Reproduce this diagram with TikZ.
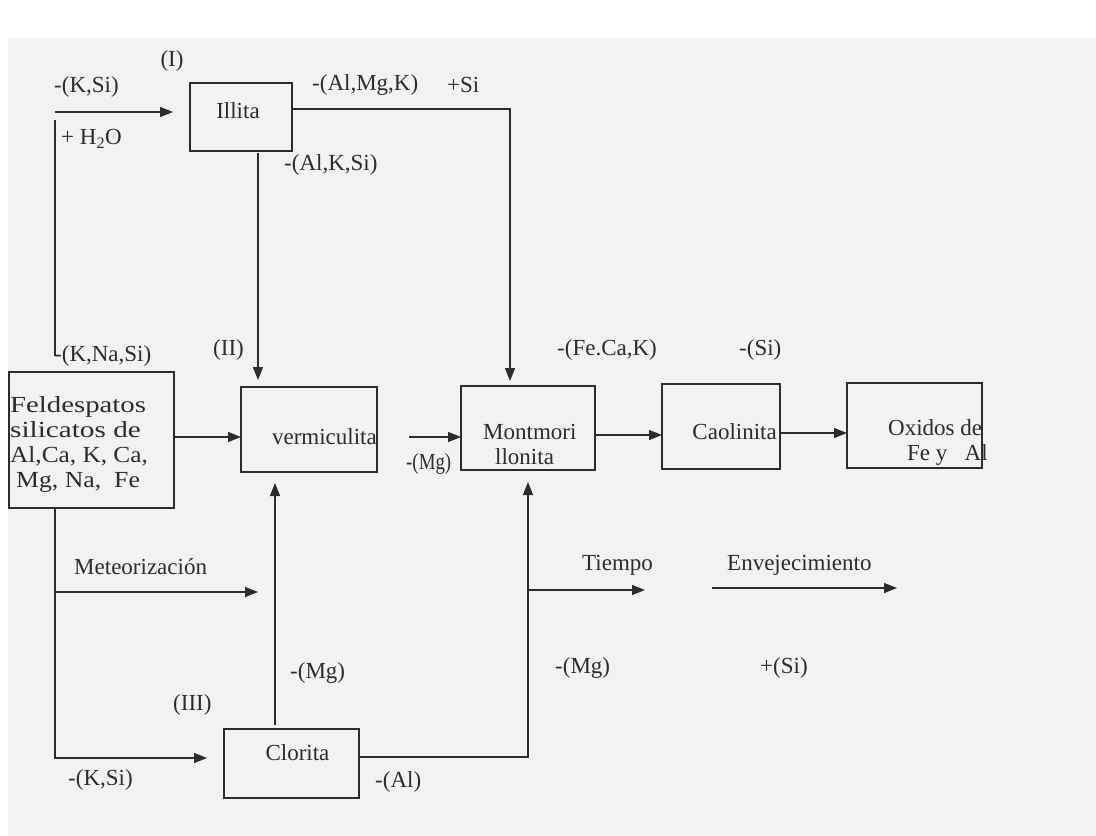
\documentclass[tikz,border=0pt]{standalone}
\usepackage{fontspec}
\setmainfont{Liberation Serif}
\usetikzlibrary{arrows.meta}
\definecolor{ink}{HTML}{2C2C2C}
\definecolor{paper}{HTML}{F2F2F2}
\begin{document}
\begin{tikzpicture}[x=1pt,y=-1pt,
  box/.style={draw=ink,line width=1.4pt,inner sep=0pt,outer sep=0pt,rectangle},
  txt/.style={inner sep=0pt,text=ink,font=\fontsize{23}{25}\selectfont},
  ln/.style={draw=ink,line width=1.4pt},
  arr/.style={draw=ink,line width=1.4pt,-{Triangle[length=13pt,width=10pt]}}]
\useasboundingbox (0,0) rectangle (1096,836);
\fill[white] (0,0) rectangle (1096,836);
\fill[paper] (8,38) rectangle (1096,836);

% boxes
\node[box,minimum width=102pt,minimum height=68pt] (illita) at (241,117) {};
\node[box,minimum width=165pt,minimum height=136pt] (feld) at (91.5,440) {};
\node[box,minimum width=136pt,minimum height=85pt] (verm) at (309,429.5) {};
\node[box,minimum width=134pt,minimum height=84pt] (mont) at (528,428) {};
\node[box,minimum width=118pt,minimum height=85pt] (caol) at (721,426.5) {};
\node[box,minimum width=135pt,minimum height=85pt] (oxid) at (914.5,425.5) {};
\node[box,minimum width=135pt,minimum height=69pt] (clor) at (291.5,763.5) {};

% box texts
\node[txt] (tillita) at (238,111) {Illita};
\node[txt,anchor=west,align=left] (tfeld) at (10,444)
  {\scalebox{1.25}[1]{Feldespatos}\\\scalebox{1.27}[1]{silicatos de}\\\scalebox{1.1}[1]{Al,Ca, K, Ca,}\\\hspace*{6pt}\scalebox{1.12}[1]{Mg, Na,~~Fe}};
\node[txt,anchor=east] (tverm) at (377,437) {vermiculita};
\node[txt,anchor=west,align=left] (tmont) at (483,444.5) {Montmori\\\hspace*{12pt}llonita};
\node[txt,anchor=east] (tcaol) at (777,432) {Caolinita};
\node[txt,anchor=west,align=left] (toxid) at (888,442) {Oxidos de\\\hspace*{19pt}Fe y~~~Al};
\node[txt] (tclor) at (297.5,753) {Clorita};

% free ends
\coordinate (ks) at (55,112);
\coordinate (kn) at (55,120);
\coordinate (knc) at (55,355.5);
\coordinate (vm) at (409,437);
\coordinate (mb) at (55,592);
\coordinate (me) at (258,592);
\coordinate (tb) at (528,590);
\coordinate (te) at (645,590);
\coordinate (eb) at (712,588);
\coordinate (ee) at (897,588);
\coordinate (ib) at ([xshift=17pt,yshift=-2pt]illita.south);
\coordinate (fb) at ([xshift=-36.5pt]feld.south);
\coordinate (ct) at ([xshift=-16.5pt,yshift=4pt]clor.north);

% connectors
\draw[arr,shorten >=17pt] (ks) -- (illita.west |- ks);
\draw[ln] (kn) -- (knc);
\draw[arr] ([yshift=8pt]illita.east) -| ([xshift=-18pt,yshift=5pt]mont.north);
\draw[arr,shorten >=7pt] (ib) -- (ib |- verm.north);
\draw[arr] ([yshift=3pt]feld.east) -- ([yshift=3pt]feld.east -| verm.west);
\draw[arr] (vm) -- (vm -| mont.west);
\draw[arr] ([yshift=-7pt]mont.east) -- ([yshift=-7pt]mont.east -| caol.west);
\draw[arr] ([yshift=-6.5pt]caol.east) -- ([yshift=-6.5pt]caol.east -| oxid.west);
\draw[arr,shorten >=17pt] (fb) |- ([yshift=5.5pt]clor.west);
\draw[arr] (mb) -- (me);
\draw[arr,shorten >=11pt] (ct) -- (ct |- verm.south);
\draw[arr,shorten >=12pt] ([yshift=6.5pt]clor.east) -| (mont.south);
\draw[arr] (tb) -- (te);
\draw[arr] (eb) -- (ee);

% labels
\node[txt] (lI) at (172,61) {(I)};
\node[txt,anchor=west] (lks) at (54,87) {-(K,Si)};
\node[txt,anchor=west] (lh2o) at (61,139) {+ H\textsubscript{2}O};
\node[txt,anchor=west] (lalmgk) at (312,85) {-(Al,Mg,K)};
\node[txt,anchor=west] (lsi) at (447,85) {+Si};
\node[txt,anchor=west] (lalksi) at (284,165) {-(Al,K,Si)};
\node[txt,anchor=base west] (lknasi) at (54,361) {-(K,Na,Si)};
\node[txt,anchor=west] (lII) at (213,350) {(II)};
\node[txt,anchor=west] (lfecak) at (557,350) {-(Fe.Ca,K)};
\node[txt,anchor=west] (lsi2) at (739,350) {-(Si)};
\node[txt,anchor=west] (lmg1) at (406,464) {\scalebox{0.82}[1]{-(Mg)}};
\node[txt,anchor=west] (lmet) at (74,567) {Meteorización};
\node[txt,anchor=west] (lmg2) at (290,673) {-(Mg)};
\node[txt,anchor=west] (lIII) at (173,705) {(III)};
\node[txt,anchor=west] (lks2) at (68,780) {-(K,Si)};
\node[txt,anchor=west] (lal) at (375,782) {-(Al)};
\node[txt,anchor=west] (ltiempo) at (582,565) {Tiempo};
\node[txt,anchor=west] (lenv) at (727,565) {Envejecimiento};
\node[txt,anchor=west] (lmg3) at (555,668) {-(Mg)};
\node[txt,anchor=west] (lsi3) at (760,668) {+(Si)};
\end{tikzpicture}
\end{document}
